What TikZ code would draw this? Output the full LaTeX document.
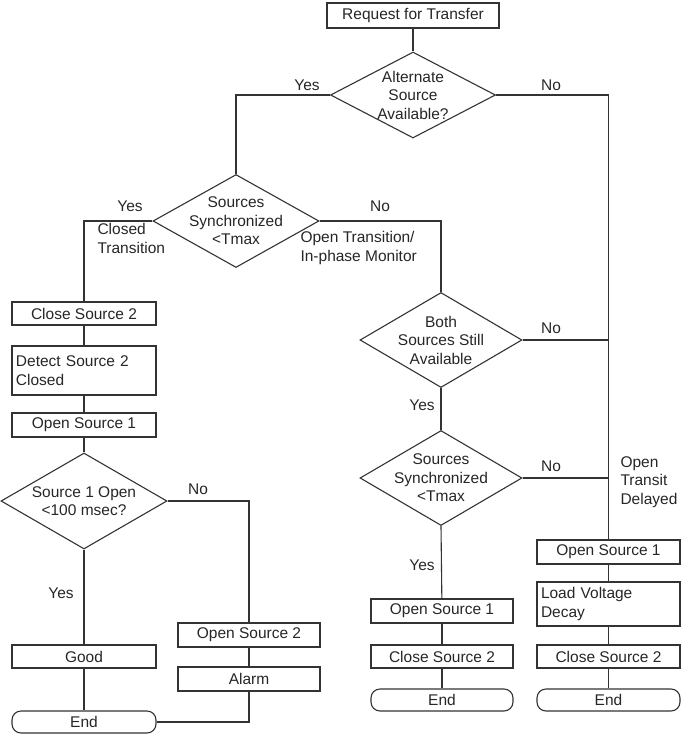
\documentclass[tikz,border=0pt]{standalone}
\usepackage{fontspec}
\setmainfont{Liberation Sans}
\usetikzlibrary{shapes.geometric}
\begin{document}
\begin{tikzpicture}[x=1pt,y=-1pt,line width=1.1pt,draw=black!80,
 every node/.style={font=\fontsize{15.5}{18.5}\selectfont,text=black!85},
 box/.style={draw,rectangle,inner sep=0pt},
 term/.style={draw,rectangle,rounded corners=9pt,inner sep=0pt},
 dia/.style={draw,diamond,inner sep=0pt},
 dtx/.style={inner sep=0pt,align=center},
 lab/.style={inner sep=0pt,align=left}]
\useasboundingbox (0,0) rectangle (685,734);
\node[box,minimum width=172,minimum height=25] (req) at (413,15.5) {Request for Transfer};
\node[dia,minimum width=165,minimum height=86] (d1) at (413,95) {};
\node[dtx] (t1) at (413,95) {Alternate\\Source\\Available?};
\node[dia,minimum width=166,minimum height=93] (d2) at (236,221) {};
\node[dtx] (t2) at (236,221) {Sources\\Synchronized\\<Tmax};
\node[dia,minimum width=162,minimum height=95] (d3) at (441,340) {};
\node[dtx] (t3) at (441,340) {Both\\Sources Still\\Available};
\node[dia,minimum width=162,minimum height=95] (d5) at (441,478) {};
\node[dtx] (t5) at (441,478) {Sources\\Synchronized\\<Tmax};
\node[dia,minimum width=166,minimum height=96] (d4) at (84,501) {};
\node[dtx] (t4) at (84,501) {Source 1 Open\\<100 msec?};
% left column
\node[box,minimum width=144,minimum height=23] (lcs2) at (84,313.5) {Close Source 2};
\node[box,minimum width=144,minimum height=49,align=left,text width=136] (det) at (84,370.5) {Detect Source 2\\Closed};
\node[box,minimum width=144,minimum height=24] (los1) at (84,425) {Open Source 1};
\node[box,minimum width=144,minimum height=23] (good) at (84,656.5) {Good};
\node[term,minimum width=144,minimum height=22] (lend) at (84,722) {End};
\node[box,minimum width=142,minimum height=24] (os2) at (249,635) {Open Source 2};
\node[box,minimum width=142,minimum height=24] (alarm) at (249,679) {Alarm};
% middle column
\node[box,minimum width=142,minimum height=24] (mos1) at (442,611) {Open Source 1};
\node[box,minimum width=142,minimum height=23] (mcs2) at (442,656.5) {Close Source 2};
\node[term,minimum width=142,minimum height=22] (mend) at (442,700) {End};
% right column
\node[box,minimum width=143,minimum height=24] (ros1) at (608.5,552) {Open Source 1};
\node[box,minimum width=143,minimum height=44,align=left,text width=135] (lvd) at (608.5,604) {Load Voltage\\Decay};
\node[box,minimum width=143,minimum height=23] (rcs2) at (608.5,656.5) {Close Source 2};
\node[term,minimum width=143,minimum height=22] (rend) at (608.5,700) {End};
% connectors
\draw (req) -- (d1);
\draw (d1.west) -| (d2.north);
\draw (d1.east) -| (ros1.north);
\draw (d2.west) -| (lcs2.north);
\draw (d2.east) -| (d3.north);
\draw (lcs2) -- (det); \draw (det) -- (los1); \draw (los1) -- (d4);
\draw (d4.south) -- (good); \draw (good) -- (lend);
\draw (d4.east) -| (os2.north); \draw (os2) -- (alarm);
\draw (alarm.south) |- (lend.east);
\draw (d3) -- (d5); \draw (d5.south) -- (mos1); \draw (mos1) -- (mcs2); \draw (mcs2) -- (mend);
\coordinate (j3) at (608.5,340); \coordinate (j5) at (608.5,478);
\draw (d3.east) -- (j3); \draw (d5.east) -- (j5);
\draw (ros1) -- (lvd); \draw (lvd) -- (rcs2); \draw (rcs2) -- (rend);
% labels
\node[lab] (l1) at (307,85) {Yes};
\node[lab] (l2) at (551,85) {No};
\node[lab] (l3) at (130,206) {Yes};
\node[lab,anchor=north west] (l4) at (97,223) {Closed\\Transition};
\node[lab] (l5) at (380,206) {No};
\node[lab,anchor=north west] (l6) at (300,231) {Open Transition/\\In-phase Monitor};
\node[lab] (l7) at (551,328) {No};
\node[lab] (l8) at (422,405) {Yes};
\node[lab] (l9) at (551,466) {No};
\node[lab,anchor=north west] (l10) at (620,456) {Open\\Transit\\Delayed};
\node[lab] (l11) at (422,565) {Yes};
\node[lab] (l12) at (198,489) {No};
\node[lab] (l13) at (61,593) {Yes};
\end{tikzpicture}
\end{document}
